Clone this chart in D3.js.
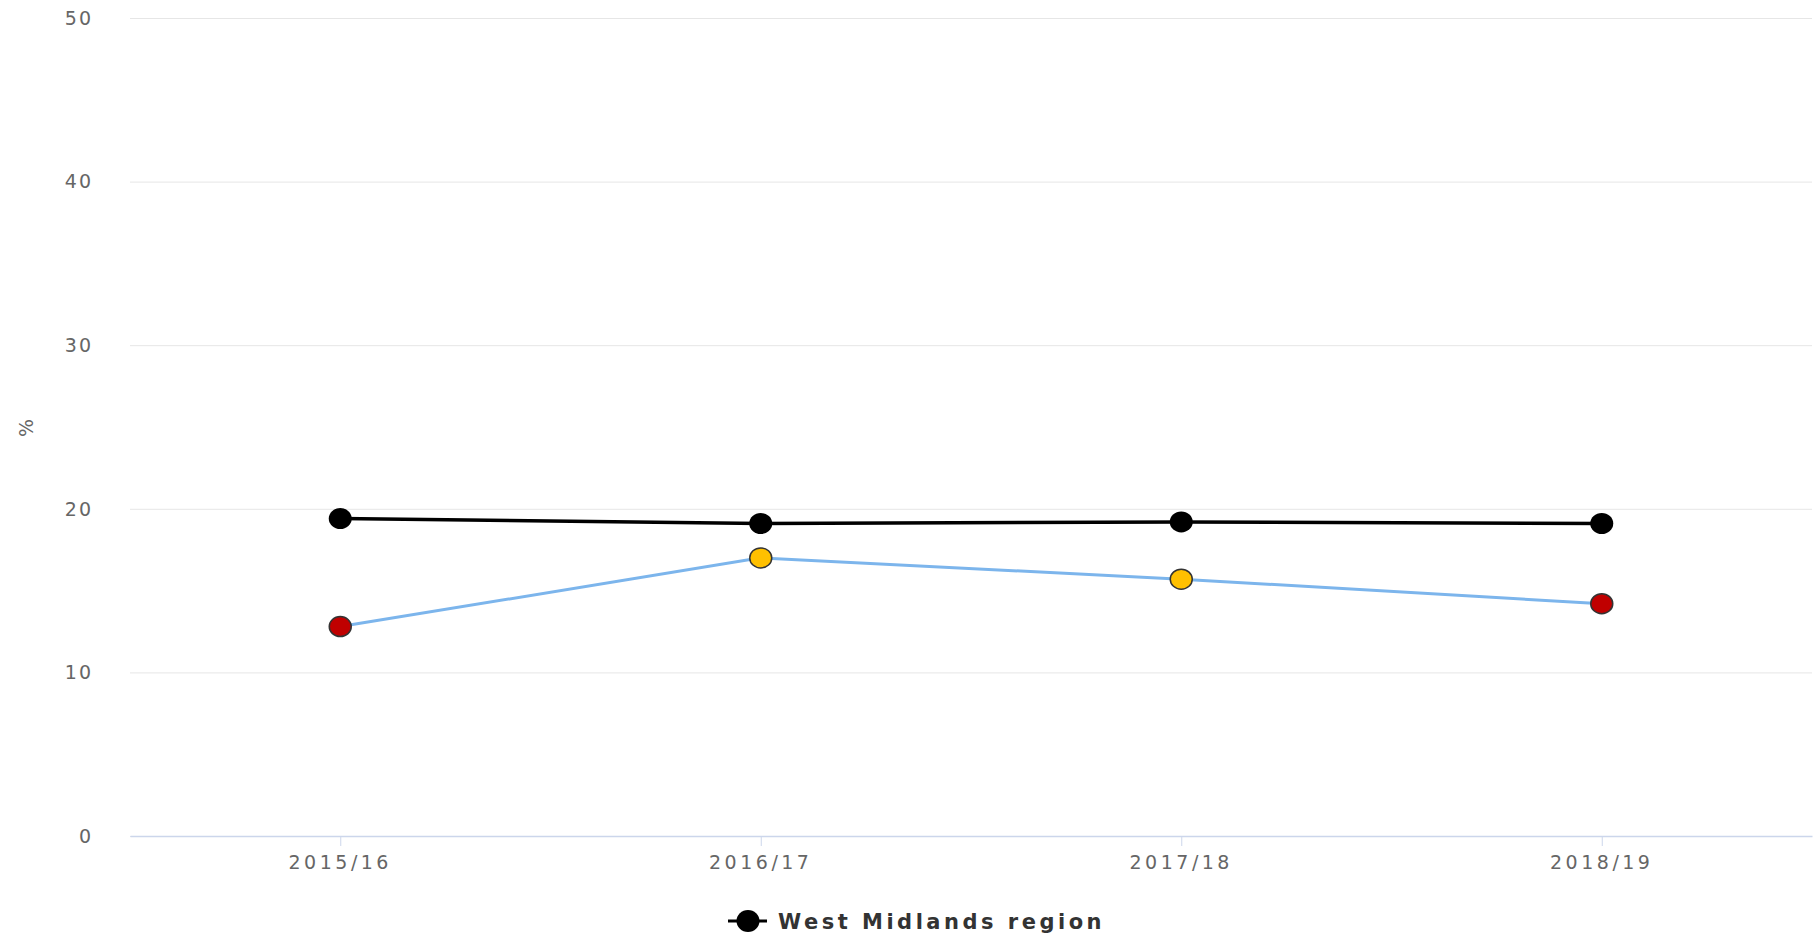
<!DOCTYPE html>
<html>
<head>
<meta charset="utf-8">
<script src="https://cdn.jsdelivr.net/npm/d3@7"></script>
<style>
    body { margin: 0; background: #fff; }
    svg { display: block; font-family: "DejaVu Sans", Verdana, sans-serif; }
    .grid line { stroke: #e6e6e6; stroke-width: 1; }
    .grid path { display: none; }
    .tick-label { fill: #666; font-size: 19px; }
</style>
</head>
<body>
<svg id="chart"></svg>
<script>
// data
var years = ['2015/16', '2016/17', '2017/18', '2018/19'];
var regionValues = [19.4, 19.1, 19.2, 19.1];
var areaValues = [12.8, 17.0, 15.7, 14.2];
var areaColours = ['#c00000', '#ffc000', '#ffc000', '#c00000'];
var yTicks = [0, 10, 20, 30, 40, 50];
var legendLabel = 'West Midlands region';

drawChart();

function drawChart(){
    var svgWidth = 1816, svgHeight = 938;
    var margin = {top: 18, right: 4, bottom: 102, left: 130};

    var svg = d3.select('#chart')
                .attr('width', svgWidth)
                .attr('height', svgHeight);

    // scales
    var x = d3.scalePoint()
                .domain(years)
                .range([margin.left, svgWidth - margin.right])
                .padding(0.5);
    var y = d3.scaleLinear()
                .domain([0, 50])
                .range([svgHeight - margin.bottom, margin.top]);

    // horizontal gridlines
    svg.append('g')
        .attr('class', 'grid')
        .attr('transform', 'translate(' + margin.left + ',0)')
        .call(d3.axisLeft(y)
            .tickValues(yTicks)
            .tickSize(-(svgWidth - margin.left - margin.right))
            .tickFormat(''));

    // y tick labels
    svg.selectAll('.y-label')
        .data(yTicks)
        .enter().append('text')
            .attr('class', 'tick-label')
            .attr('x', 93)
            .attr('y', function(d){ return y(d)})
            .attr('dy', '0.36em')
            .attr('text-anchor', 'end')
            .style('letter-spacing', '2px')
            .text(function(d){ return d});

    // y axis title
    svg.append('text')
        .attr('transform', 'translate(33,428) rotate(-90)')
        .attr('text-anchor', 'middle')
        .style('fill', '#666')
        .style('font-size', '19px')
        .text('%');

    // x axis line and ticks
    var xAxis = svg.append('g')
        .attr('transform', 'translate(0,' + y(0) + ')')
        .call(d3.axisBottom(x).tickSize(10).tickSizeOuter(0).tickFormat(''));
    xAxis.select('.domain').attr('stroke', '#ccd6eb').attr('stroke-width', 1.5);
    xAxis.selectAll('.tick line').attr('stroke', '#ccd6eb');

    svg.selectAll('.x-label')
        .data(years)
        .enter().append('text')
            .attr('class', 'tick-label')
            .attr('x', function(d){ return x(d)})
            .attr('y', y(0) + 33)
            .attr('text-anchor', 'middle')
            .style('letter-spacing', '3.5px')
            .text(function(d){ return d});

    var line = d3.line()
                .x(function(d, i){ return x(years[i])})
                .y(function(d){ return y(d)});

    // local area series (blue)
    svg.append('path')
        .datum(areaValues)
        .attr('fill', 'none')
        .attr('stroke', '#7cb5ec')
        .attr('stroke-width', 3)
        .attr('d', line);

    // region series (black)
    svg.append('path')
        .datum(regionValues)
        .attr('fill', 'none')
        .attr('stroke', '#000')
        .attr('stroke-width', 3.5)
        .attr('d', line);

    svg.selectAll('.area-dot')
        .data(areaValues)
        .enter().append('ellipse')
            .attr('class', 'area-dot')
            .attr('cx', function(d, i){ return x(years[i])})
            .attr('cy', function(d){ return y(d)})
            .attr('rx', 11)
            .attr('ry', 10)
            .attr('fill', function(d, i){ return areaColours[i]})
            .attr('stroke', '#333')
            .attr('stroke-width', 1.5);

    svg.selectAll('.region-dot')
        .data(regionValues)
        .enter().append('ellipse')
            .attr('class', 'region-dot')
            .attr('cx', function(d, i){ return x(years[i])})
            .attr('cy', function(d){ return y(d)})
            .attr('rx', 11.5)
            .attr('ry', 10.5)
            .attr('fill', '#000');

    // legend
    var legend = svg.append('g')
        .attr('transform', 'translate(728,921)');
    legend.append('line')
        .attr('x1', 0).attr('x2', 39)
        .attr('stroke', '#000')
        .attr('stroke-width', 3);
    legend.append('ellipse')
        .attr('cx', 20)
        .attr('rx', 11.5)
        .attr('ry', 11)
        .attr('fill', '#000');
    legend.append('text')
        .attr('x', 50)
        .attr('dy', '0.36em')
        .style('fill', '#333')
        .style('font-size', '21px')
        .style('font-weight', 'bold')
        .style('letter-spacing', '3.5px')
        .text(legendLabel);
}
</script>
</body>
</html>
